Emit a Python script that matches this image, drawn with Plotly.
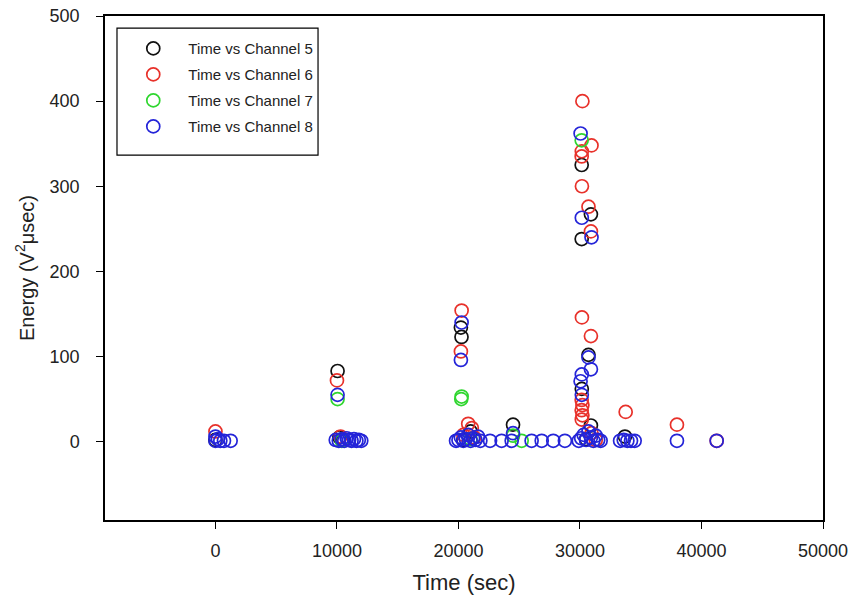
import plotly.graph_objects as go

# Acoustic-emission energy per channel over time
ch5_time = [0, 10050, 10200, 10500, 20200, 20250, 20400, 21000, 24490, 30140, 30140,
            30900, 30700, 30150, 30900, 30500, 33700]
ch5_energy = [2, 83, 5, 2, 134, 123, 2, 12, 20, 325, 238, 267, 102, 62, 19, 3, 6]

ch6_time = [0, 10000, 10300, 20260, 20200, 20800, 21100, 20400, 21300, 30200, 30950,
            30150, 30140, 30160, 30700, 30900, 30160, 30900, 30140, 30200, 30140,
            30200, 30150, 30950, 31300, 33760, 37980, 41250]
ch6_energy = [12, 72, 6, 154, 106, 21, 16, 8, 5, 400, 348, 341, 335, 300, 276, 247,
              146, 124, 49, 43, 37, 31, 26, 10, 2, 35, 20, 1]

ch7_time = [10050, 10400, 20260, 20230, 21000, 24490, 25200, 30140]
ch7_energy = [50, 1, 53, 50, 3, 7, 1, 354]

ch8_time = [0, 0, 200, 400, 700, 1250,
            10050, 9900, 10150, 10400, 10600, 10800, 11000, 11200, 11400, 11600, 11800, 12000,
            20260, 20200, 19800, 20000, 20200, 20400, 20600, 20800, 21000, 21200, 21400,
            21600, 21800, 22600, 23550, 24380, 24490, 26020, 26850, 27800, 28760,
            30050, 30150, 30950, 30700, 30900, 30150, 30050, 30150,
            29900, 30100, 30300, 30500, 30700, 30900, 31100, 31300, 31500, 31700,
            33300, 33600, 33900, 34200, 34500, 37980, 41250]
ch8_energy = [6, 1, 3, 1, 1, 1,
              55, 2, 1, 3, 1, 4, 2, 1, 3, 1, 2, 1,
              140, 96, 1, 2, 5, 1, 3, 8, 1, 4, 2,
              6, 1, 1, 1, 1, 10, 1, 1, 1, 1,
              362, 263, 240, 99, 85, 79, 71, 55,
              1, 4, 8, 2, 12, 5, 1, 7, 2, 1,
              1, 2, 1, 1, 1, 1, 1]

series = [
    ("Time vs Channel 5", ch5_time, ch5_energy, "#111111"),
    ("Time vs Channel 6", ch6_time, ch6_energy, "#e8312a"),
    ("Time vs Channel 7", ch7_time, ch7_energy, "#2fd62f"),
    ("Time vs Channel 8", ch8_time, ch8_energy, "#2424d8"),
]

x_ticks = [0, 10000, 20000, 30000, 40000, 50000]
y_ticks = [0, 100, 200, 300, 400, 500]

FONT = "Liberation Sans, Arial"

fig = go.Figure()
for i, (name, t, e, color) in enumerate(series):
    fig.add_trace(go.Scatter(
        x=t, y=e, mode="markers", name=name, legendgroup=f"g{i}",
        marker=dict(symbol="circle-open", size=13, color=color,
                    line=dict(width=1.7, color=color)),
    ))

axis_common = dict(
    showline=True, linecolor="black", linewidth=1.5, mirror=True,
    ticks="outside", ticklen=7, tickwidth=1.2, tickcolor="black",
    showgrid=False, zeroline=False, automargin=False,
    ticklabeloverflow="allow",
    tickfont=dict(family=FONT, size=18, color="#222"),
)

fig.update_layout(
    width=855, height=610,
    margin=dict(l=105, r=32, t=16, b=90),
    paper_bgcolor="white", plot_bgcolor="white",
    xaxis=dict(range=[-9090, 50000], tickvals=x_ticks,
               ticktext=[str(v) for v in x_ticks], ticklabelstandoff=7,
               title=dict(text="Time (sec)", standoff=14,
                          font=dict(family=FONT, size=22, color="#222")),
               **axis_common),
    yaxis=dict(range=[-92, 500], tickvals=y_ticks,
               ticktext=[str(v) for v in y_ticks], ticklabelstandoff=13,
               title=dict(text="Energy (V<sup>2</sup>μsec)", standoff=10,
                          font=dict(family=FONT, size=20, color="#222")),
               **axis_common),
    legend=dict(x=0.0185, y=0.968, xanchor="left", yanchor="top",
                borderwidth=0, bgcolor="rgba(0,0,0,0)",
                tracegroupgap=3.5, itemwidth=60,
                font=dict(family=FONT, size=15, color="#222")),
    shapes=[dict(type="rect", xref="paper", yref="paper",
                 x0=0.0167, x1=0.2967, y0=0.724, y1=0.976,
                 line=dict(color="black", width=1.2), layer="above")],
    showlegend=True,
)

fig.write_html("out.html")
